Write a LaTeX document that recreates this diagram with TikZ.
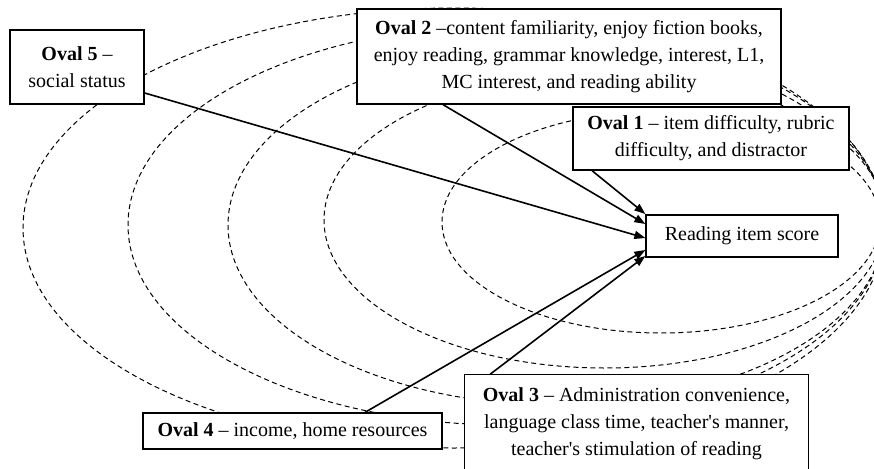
\documentclass[tikz,border=0pt]{standalone}
\usepackage{fontspec}
\setmainfont{Liberation Serif}
\usetikzlibrary{arrows.meta}
\tikzset{
  ov/.style={dashed, dash pattern=on 5pt off 3.5pt, line width=1pt, black},
  boxn/.style={draw=black, line width=1.3pt, fill=white, align=center, inner sep=0pt},
  arr/.style={line width=1.6pt, -{Triangle[length=11pt,width=8pt]}},
}
\begin{document}
\begin{tikzpicture}[x=1pt, y=-1pt, font=\fontsize{20}{27}\selectfont]
\useasboundingbox (0,0) rectangle (874,468);
\fill[white] (0,0) rectangle (874,468);
\clip (0,0) rectangle (874,468);
% nested ovals
\draw[ov] (661,222) ellipse [x radius=219pt, y radius=111pt];
\draw[ov] (604.5,220) ellipse [x radius=280.5pt, y radius=148pt];
\draw[ov] (556.5,225) ellipse [x radius=328.5pt, y radius=180pt];
\draw[ov] (506.5,225) ellipse [x radius=378.5pt, y radius=200pt];
\draw[ov] (454,228) ellipse [x radius=431pt, y radius=220pt];
% boxes
\node[boxn, minimum width=134pt, minimum height=74pt] (box5) at (77,67) {\textbf{Oval 5} --\\social status};
\node[boxn, minimum width=424pt, minimum height=95pt] (box2) at (569,56.5) {\textbf{Oval 2} --content familiarity, enjoy fiction books,\\enjoy reading, grammar knowledge, interest, L1,\\MC interest, and reading ability};
\node[boxn, minimum width=276pt, minimum height=63pt] (box1) at (711,138.5) {\textbf{Oval 1} -- item difficulty, rubric\\difficulty, and distractor};
\node[boxn, minimum width=192pt, minimum height=42pt] (R) at (742,236) {Reading item score};
\node[boxn, minimum width=299pt, minimum height=36pt] (box4) at (292.5,431) {\textbf{Oval 4} -- income, home resources};
\node[boxn, draw=none, minimum width=343pt, minimum height=98pt] (box3) at (636.5,424) {\textbf{Oval 3} -- Administration convenience,\\language class time, teacher\textquotesingle s manner,\\teacher\textquotesingle s stimulation of reading};
\draw[line width=1.3pt] ([yshift=-30pt]box3.south west) rectangle (box3.north east);
% arrows
\draw[arr] ([xshift=-119pt]box1.south) -- ([yshift=22pt]R.west);
\draw[arr] ([xshift=-126pt]box2.south) -- ([yshift=12pt]R.west);
\draw[arr] ([yshift=-26pt]box5.east) -- ([yshift=-2pt]R.west);
\draw[arr] ([xshift=72.5pt]box4.north) -- ([yshift=-14pt]R.west);
\draw[arr] ([xshift=-146.5pt]box3.north) -- ([yshift=-20pt]R.west);
\end{tikzpicture}
\end{document}
